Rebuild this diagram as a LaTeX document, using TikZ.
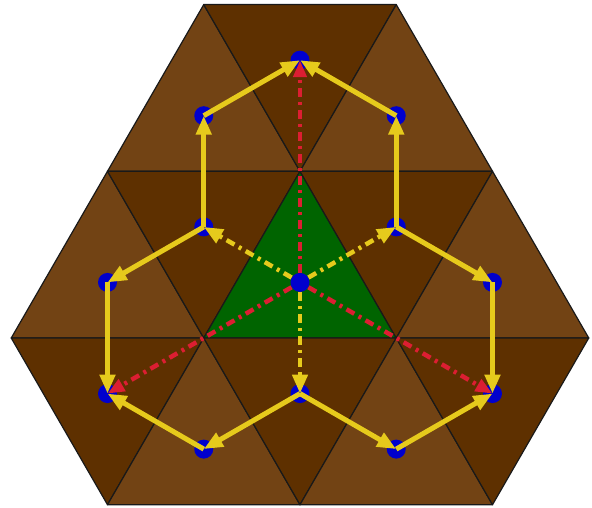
\documentclass[tikz,border=0pt]{standalone}
\usetikzlibrary{arrows.meta}
\definecolor{darkbr}{RGB}{94,48,0}
\definecolor{lightbr}{RGB}{114,67,20}
\definecolor{greenf}{RGB}{0,100,0}
\definecolor{dotblue}{RGB}{0,0,205}
\definecolor{yel}{RGB}{230,202,28}
\definecolor{redd}{RGB}{220,30,50}
\begin{document}
\begin{tikzpicture}[x=1pt,y=-1pt,
  tri/.style={draw=black!90,line width=1.2pt,line join=round},
  dk/.style={tri,fill=darkbr},
  lt/.style={tri,fill=lightbr},
  gr/.style={tri,fill=greenf},
  dotn/.style={circle,fill=dotblue,minimum size=19pt,inner sep=0pt},
  yarrow/.style={draw=yel,line width=5pt,-{Triangle[length=19pt,width=15pt]}},
  ydash/.style={draw=yel,line width=4.5pt,dash pattern=on 9pt off 5pt on 3pt off 5pt,-{Triangle[length=19pt,width=15pt]}},
  rdash/.style={draw=redd,line width=4.5pt,dash pattern=on 9pt off 5pt on 3pt off 5pt,-{Triangle[length=17pt,width=13pt]}}
]
\useasboundingbox (0,0) rectangle (592,508);
% lattice
\coordinate (A1) at (203.75,4.6); \coordinate (A2) at (396.25,4.6);
\coordinate (B1) at (107.5,171.3); \coordinate (B2) at (300,171.3); \coordinate (B3) at (492.5,171.3);
\coordinate (C1) at (11.25,338); \coordinate (C2) at (203.75,338); \coordinate (C3) at (396.25,338); \coordinate (C4) at (588.75,338);
\coordinate (D1) at (107.5,504.7); \coordinate (D2) at (300,504.7); \coordinate (D3) at (492.5,504.7);
% triangles
\draw[lt] (B1) -- (B2) -- (A1) -- cycle;
\draw[dk] (A1) -- (A2) -- (B2) -- cycle;
\draw[lt] (B2) -- (B3) -- (A2) -- cycle;
\draw[lt] (C1) -- (C2) -- (B1) -- cycle;
\draw[dk] (B1) -- (B2) -- (C2) -- cycle;
\draw[gr] (C2) -- (C3) -- (B2) -- cycle;
\draw[dk] (B2) -- (B3) -- (C3) -- cycle;
\draw[lt] (C3) -- (C4) -- (B3) -- cycle;
\draw[dk] (C1) -- (C2) -- (D1) -- cycle;
\draw[lt] (D1) -- (D2) -- (C2) -- cycle;
\draw[dk] (C2) -- (C3) -- (D2) -- cycle;
\draw[lt] (D2) -- (D3) -- (C3) -- cycle;
\draw[dk] (C3) -- (C4) -- (D3) -- cycle;
% dots
\node[dotn] (t) at (300,60.2) {};
\node[dotn] (tl) at (203.75,115.7) {};
\node[dotn] (tr) at (396.25,115.7) {};
\node[dotn] (ml) at (203.75,226.9) {};
\node[dotn] (mr) at (396.25,226.9) {};
\node[dotn] (l) at (107.5,282.4) {};
\node[dotn] (r) at (492.5,282.4) {};
\node[dotn] (bl) at (107.5,393.6) {};
\node[dotn] (bm) at (300,393.6) {};
\node[dotn] (br) at (492.5,393.6) {};
\node[dotn] (bbl) at (203.75,449.1) {};
\node[dotn] (bbr) at (396.25,449.1) {};
% yellow solid arrows
\draw[yarrow] (ml.center) -- (tl.center);
\draw[yarrow] (tl.center) -- (t.center);
\draw[yarrow] (mr.center) -- (tr.center);
\draw[yarrow] (tr.center) -- (t.center);
\draw[yarrow] (ml.center) -- (l.center);
\draw[yarrow] (l.center) -- (bl.center);
\draw[yarrow] (bm.center) -- (bbl.center);
\draw[yarrow] (bbl.center) -- (bl.center);
\draw[yarrow] (mr.center) -- (r.center);
\draw[yarrow] (r.center) -- (br.center);
\draw[yarrow] (bm.center) -- (bbr.center);
\draw[yarrow] (bbr.center) -- (br.center);
% centre
\node[dotn] (c) at (300,282.4) {};
\draw[ydash] (c) -- (ml.center);
\draw[ydash] (c) -- (mr.center);
\draw[ydash] (c) -- (bm.center);
\draw[rdash] (c) -- (t.center);
\draw[rdash] (c) -- (bl.center);
\draw[rdash] (c) -- (br.center);
\end{tikzpicture}
\end{document}
